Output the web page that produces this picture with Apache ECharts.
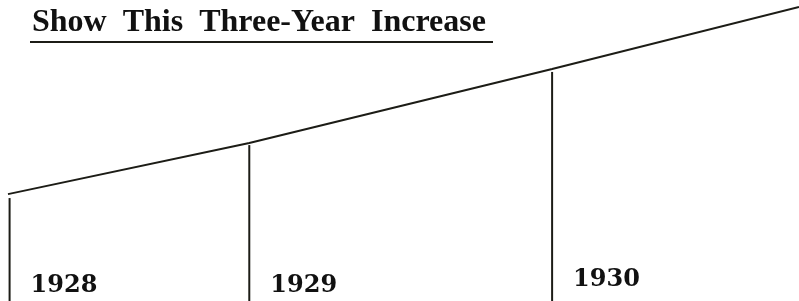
<!DOCTYPE html>
<html>
<head>
<meta charset="utf-8">
<script src="https://cdn.jsdelivr.net/npm/echarts@6/dist/echarts.min.js"></script>
<style>
  html, body { margin: 0; padding: 0; background: #fff; }
  #chart { width: 799px; height: 301px; }
</style>
</head>
<body>
<div id="chart"></div>
<script>
// years and where they sit along the (unit-less) time axis
var years = ['1928', '1929', '1930'];
var yearPos = [1.2, 31.2, 69.1];
// height each year's column reaches (0-100 index)
var yearHeight = [34.2, 51.8, 76.1];
// the rising trend line, drawn across the whole width
var trendX = [1.0, 31.2, 69.1, 100];
var trendY = [35.5, 52.5, 77.1, 97.7];

var ink = '#1c1c16';

var chart = echarts.init(document.getElementById('chart'));

var trendData = trendX.map(function (x, i) { return [x, trendY[i]]; });
var labelOffsets = [[17, 2], [17, 2], [17, -4]];
var columnData = yearPos.map(function (x, i) {
  return {
    value: [x, yearHeight[i]],
    label: { formatter: years[i], offset: labelOffsets[i] }
  };
});

var option = {
  backgroundColor: '#fff',
  animation: false,
  title: {
    // wide word gaps as in the printed original
    text: 'Show  This  Three-Year  Increase',
    left: 27,
    top: 2,
    textStyle: {
      fontFamily: 'Liberation Serif',
      fontWeight: 'bold',
      fontSize: 32,
      color: '#111'
    }
  },
  grid: { left: 0, right: 0, top: 0, bottom: 0 },
  xAxis: { type: 'value', min: 0, max: 100, show: false },
  yAxis: { type: 'value', min: 0, max: 100, show: false },
  graphic: [{
    type: 'line',
    shape: { x1: 30, y1: 42, x2: 493, y2: 42 },
    style: { stroke: ink, lineWidth: 2 }
  }],
  series: [
    {
      type: 'line',
      data: trendData,
      symbol: 'none',
      lineStyle: { color: ink, width: 2 }
    },
    {
      type: 'bar',
      data: columnData,
      barWidth: 2,
      itemStyle: { color: ink },
      label: {
        show: true,
        position: 'insideBottomLeft',
        fontFamily: 'DejaVu Serif',
        fontWeight: 'bold',
        fontSize: 24,
        color: '#111'
      }
    }
  ]
};

chart.setOption(option);
</script>
</body>
</html>
